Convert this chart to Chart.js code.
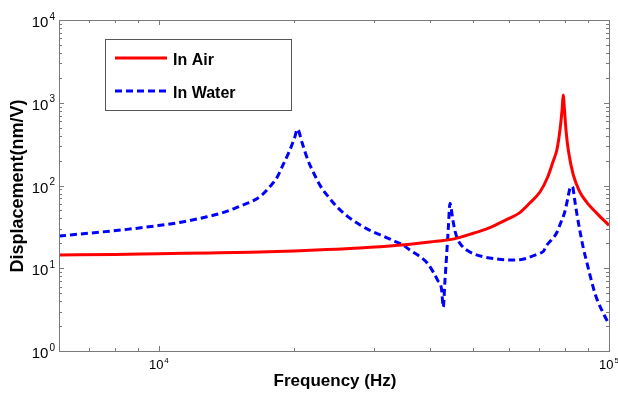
<!DOCTYPE html>
<html>
<head>
<meta charset="utf-8">
<script src="https://cdn.jsdelivr.net/npm/chart.js@4.4.0/dist/chart.umd.min.js"></script>
<style>
    html, body { margin: 0; padding: 0; background: #fff; }
</style>
</head>
<body>
<canvas id="responseChart" width="618" height="397"></canvas>
<script>
// In Air
const airFreq = [6000, 8000, 10000, 13000, 16000, 20000, 23000, 28000, 34000, 40000, 45000, 50000,
    54000, 57000, 60000, 63000, 66600, 70300, 73000, 75100, 76600, 77900, 78700, 79100, 79600,
    80300, 81300, 83300, 86000, 89200, 94000, 100000];
const airDisp = [14.5, 14.7, 15, 15.3, 15.6, 16.2, 16.7, 17.6, 19, 20.8, 22.5, 26.5,
    30.5, 35, 40, 46, 61, 84, 125, 194, 270, 490, 850, 1240, 850,
    450, 257, 134, 85, 63, 46, 33];

// In Water
const waterFreq = [6000, 7400, 8500, 9800, 11200, 12650, 13800, 14750, 15600, 16340, 17000, 17650,
    18300, 18870, 19500, 20000, 20330, 20800, 21430, 22100, 22790, 23800, 24840, 26300, 28000,
    29700, 31500, 33200, 34850, 36100, 38040, 39500, 40640, 41600, 42480, 42830, 43200, 43560,
    43950, 44330, 45000, 45500, 46170, 47200, 48270, 50000, 52480, 56000, 60240, 63400, 65600,
    68000, 70300, 71500, 72750, 74500, 76580, 78200, 79760, 81000, 81900, 82970, 83800, 84700,
    86200, 87700, 89200, 90700, 92300, 93900, 97000, 100000];
const waterDisp = [24.5, 27.3, 29.5, 32.4, 36, 41.3, 46.5, 53, 60, 67, 78, 97,
    125, 177, 260, 370, 478, 330, 203, 140, 101, 73, 55.5, 42, 33.3,
    28, 24.5, 21.5, 19.1, 16.6, 13.8, 11.5, 9.1, 7.2, 5.5, 3.4, 7, 13.8,
    30, 61, 38, 28, 22, 18.5, 16.6, 15, 13.8, 13, 12.6, 12.7, 13.2,
    14.2, 15.2, 16, 19, 22, 27, 36, 48, 70, 92, 97, 70, 48,
    28, 17.5, 12, 8.3, 5.8, 4.3, 2.9, 2.1];

// tick labels (powers of ten)
const xTickExps = [4, 5];
const yTickExps = [0, 1, 2, 3, 4];

const toPoints = (xs, ys) => xs.map((x, i) => ({ x: x, y: ys[i] }));

function drawPow(ctx, exp, x, y, align, baseSize, expSize) {
    ctx.font = baseSize + 'px Arial, "Liberation Sans", sans-serif';
    const wBase = ctx.measureText('10').width;
    ctx.font = expSize + 'px Arial, "Liberation Sans", sans-serif';
    const wExp = ctx.measureText(String(exp)).width;
    const total = wBase + wExp + 1;
    let left = x;
    if (align === 'center') left = x - total / 2;
    if (align === 'right') left = x - total;
    ctx.textAlign = 'left';
    ctx.textBaseline = 'alphabetic';
    ctx.font = baseSize + 'px Arial, "Liberation Sans", sans-serif';
    ctx.fillText('10', left, y);
    ctx.font = expSize + 'px Arial, "Liberation Sans", sans-serif';
    ctx.fillText(String(exp), left + wBase + 1, y - baseSize * 0.5);
}

// axes box, inward ticks, labels, titles and legend
const framePlugin = {
    id: 'frame',
    afterDraw(chart) {
        const ctx = chart.ctx;
        const a = chart.chartArea;
        const xs = chart.scales.x;
        const ys = chart.scales.y;
        ctx.save();
        ctx.strokeStyle = '#7a7a7a';
        ctx.lineWidth = 1;
        ctx.strokeRect(Math.round(a.left) + 0.5, Math.round(a.top) + 0.5,
            Math.round(a.right - a.left), Math.round(a.bottom - a.top));

        ctx.beginPath();
        for (let d = 3; d <= 5; d++) {
            for (let m = 1; m <= 9; m++) {
                const v = m * Math.pow(10, d);
                if (v < xs.min || v > xs.max) continue;
                const px = Math.round(xs.getPixelForValue(v)) + 0.5;
                const len = m === 1 ? 5 : 3;
                ctx.moveTo(px, a.bottom); ctx.lineTo(px, a.bottom - len);
                ctx.moveTo(px, a.top); ctx.lineTo(px, a.top + len);
            }
        }
        for (let d = 0; d <= 4; d++) {
            for (let m = 1; m <= 9; m++) {
                const v = m * Math.pow(10, d);
                if (v < ys.min || v > ys.max) continue;
                const py = Math.round(ys.getPixelForValue(v)) + 0.5;
                const len = m === 1 ? 5 : 3;
                ctx.moveTo(a.left, py); ctx.lineTo(a.left + len, py);
                ctx.moveTo(a.right, py); ctx.lineTo(a.right - len, py);
            }
        }
        ctx.stroke();

        ctx.fillStyle = '#000';
        xTickExps.forEach(e => {
            const px = xs.getPixelForValue(Math.pow(10, e));
            drawPow(ctx, e, px, a.bottom + 18, 'center', 13, 8);
        });
        yTickExps.forEach(e => {
            const py = ys.getPixelForValue(Math.pow(10, e));
            drawPow(ctx, e, a.left - 4, py + 7, 'right', 15, 10);
        });

        ctx.font = 'bold 17px Arial, "Liberation Sans", sans-serif';
        ctx.textAlign = 'center';
        ctx.textBaseline = 'alphabetic';
        ctx.fillText('Frequency (Hz)', 335, 386);

        ctx.save();
        ctx.translate(23, 186);
        ctx.rotate(-Math.PI / 2);
        ctx.font = 'bold 18px Arial, "Liberation Sans", sans-serif';
        ctx.fillText('Displacement(nm/V)', 0, 0);
        ctx.restore();

        // legend
        ctx.fillStyle = '#fff';
        ctx.fillRect(105, 39, 186, 71);
        ctx.strokeStyle = '#555';
        ctx.strokeRect(105.5, 39.5, 186, 71);
        const rows = [58, 91];
        chart.data.datasets.forEach((ds, i) => {
            ctx.beginPath();
            ctx.strokeStyle = ds.borderColor;
            ctx.lineWidth = ds.borderWidth;
            ctx.setLineDash(ds.borderDash || []);
            ctx.moveTo(115, rows[i]);
            ctx.lineTo(167, rows[i]);
            ctx.stroke();
            ctx.setLineDash([]);
            ctx.fillStyle = '#000';
            ctx.font = 'bold 16px Arial, "Liberation Sans", sans-serif';
            ctx.textAlign = 'left';
            ctx.fillText(ds.label, 173, rows[i] + 7);
        });
        ctx.restore();
    }
};

document.addEventListener('DOMContentLoaded', () => {
    const ctx = document.getElementById('responseChart');
    new Chart(ctx, {
        type: 'line',
        data: {
            datasets: [{
                label: 'In Air',
                data: toPoints(airFreq, airDisp),
                borderColor: '#ff0000',
                borderWidth: 3,
                pointRadius: 0,
                cubicInterpolationMode: 'monotone',
                fill: false
            }, {
                label: 'In Water',
                data: toPoints(waterFreq, waterDisp),
                borderColor: '#0000ff',
                borderWidth: 3,
                borderDash: [7, 4],
                pointRadius: 0,
                cubicInterpolationMode: 'monotone',
                fill: false
            }]
        },
        options: {
            responsive: false,
            animation: false,
            layout: { padding: { left: 59, right: 9, top: 20, bottom: 46 } },
            plugins: {
                legend: { display: false },
                tooltip: { enabled: false }
            },
            scales: {
                x: { type: 'logarithmic', min: 6000, max: 100000, display: false },
                y: { type: 'logarithmic', min: 1, max: 10000, display: false }
            }
        },
        plugins: [framePlugin]
    });
});
</script>
</body>
</html>
